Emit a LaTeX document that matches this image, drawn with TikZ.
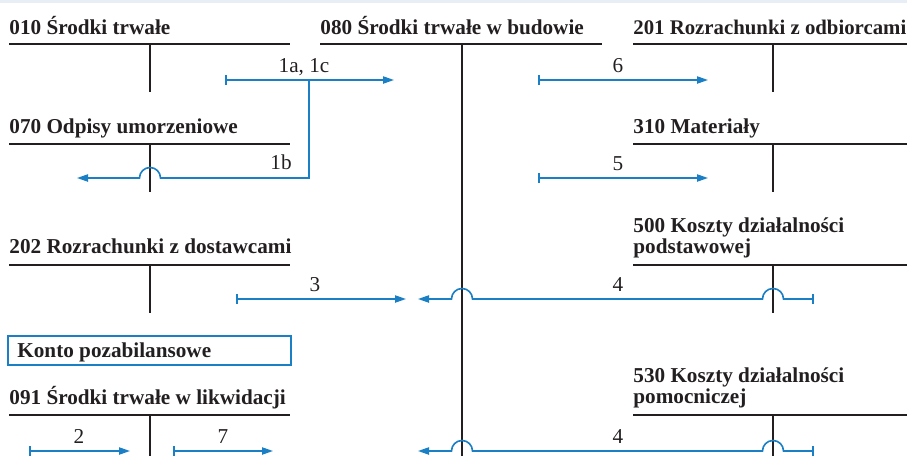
\documentclass[tikz,border=0pt]{standalone}
\usepackage{fontspec}
\setmainfont{Liberation Serif}
\usetikzlibrary{arrows.meta}
\definecolor{acblue}{RGB}{27,127,197}
\definecolor{ink}{RGB}{35,31,32}
\definecolor{band}{RGB}{232,238,246}
\begin{document}
\begin{tikzpicture}[x=0.5pt,y=-0.5pt,
 title/.style={font=\fontsize{10.6}{10.5}\selectfont\bfseries, text=ink, inner sep=0pt, anchor=base west, align=left},
 lbl/.style={font=\fontsize{10.6}{12}\selectfont, text=ink, inner sep=0pt, anchor=base},
 acc/.style={draw=ink, line width=0.7pt},
 flow/.style={draw=acblue, line width=0.8pt, -{Triangle[length=5.5pt,width=3.6pt]}},
 flowbar/.style={draw=acblue, line width=0.8pt, {Bar[width=5pt]}-{Triangle[length=5.5pt,width=3.6pt]}},
 kbox/.style={draw=acblue, line width=0.8pt, inner sep=0pt, minimum width=141.5pt, minimum height=14.5pt}
]
\useasboundingbox (0,0) rectangle (907,456);
\fill[band] (0,0) rectangle (907,2.5);

% titles
\node[title] (t010) at (9,34) {010 Środki trwałe};
\node[title] (t080) at (320,34) {080 Środki trwałe w budowie};
\node[title, font=\fontsize{10.4}{10.5}\selectfont\bfseries] (t201) at (633,34) {201 Rozrachunki z odbiorcami};
\node[title] (t070) at (9,133) {070 Odpisy umorzeniowe};
\node[title] (t310) at (633,133) {310 Materiały};
\node[title] (t202) at (9,253) {202 Rozrachunki z dostawcami};
\node[title] (t500) at (633,253) {500 Koszty działalności\\podstawowej};
\node[kbox] (konto) at (149.5,350.5) {};
\node[title] (kontot) at (17,357) {Konto pozabilansowe};
\node[title] (t091) at (9,404) {091 Środki trwałe w likwidacji};
\node[title] (t530) at (633,403) {530 Koszty działalności\\pomocniczej};

% T-accounts
\draw[acc] (9,44) -- (290,44) (150,44) -- (150,92);
\draw[acc] (320,44) -- (602,44) (462,44) -- (462,456);
\draw[acc] (633,44) -- (907,44) (773,44) -- (773,92);
\draw[acc] (9,144) -- (290,144) (150,144) -- (150,192);
\draw[acc] (633,144) -- (907,144) (773,144) -- (773,192);
\draw[acc] (9,265) -- (290,265) (150,265) -- (150,313);
\draw[acc] (633,265) -- (907,265) (773,265) -- (773,313);
\draw[acc] (9,415) -- (290,415) (150,415) -- (150,456);
\draw[acc] (633,415) -- (907,415) (773,415) -- (773,456);

% flows
\coordinate (s1) at (225,80); \coordinate (e1) at (394,80);
\coordinate (b1) at (309,80); \coordinate (e1b) at (77,178);
\draw[flowbar] (s1) -- (e1);
\draw[flow] (b1) -- (309,178) -- (160.5,178) arc[start angle=0,end angle=180,radius=5.25pt] -- (e1b);
\node[lbl] (l1a) at (304,72) {1a, 1c};
\node[lbl] (l1b) at (281,169) {1b};

\coordinate (s6) at (538,80); \coordinate (e6) at (708,80);
\draw[flowbar] (s6) -- (e6);
\node[lbl] (l6) at (618,72) {6};

\coordinate (s5) at (538,178); \coordinate (e5) at (708,178);
\draw[flowbar] (s5) -- (e5);
\node[lbl] (l5) at (618,170) {5};

\coordinate (s3) at (236,299); \coordinate (e3) at (406,299);
\draw[flowbar] (s3) -- (e3);
\node[lbl] (l3) at (315,291) {3};

\coordinate (s4a) at (814,299); \coordinate (e4a) at (418,299);
\draw[flowbar] (s4a) -- (783.5,299) arc[start angle=0,end angle=180,radius=5.25pt] -- (472.5,299) arc[start angle=0,end angle=180,radius=5.25pt] -- (e4a);
\node[lbl] (l4a) at (618,291) {4};

\coordinate (s2) at (29,451); \coordinate (e2) at (130,451);
\draw[flowbar] (s2) -- (e2);
\node[lbl] (l2) at (79,443) {2};

\coordinate (s7) at (173,451); \coordinate (e7) at (273,451);
\draw[flowbar] (s7) -- (e7);
\node[lbl] (l7) at (223,443) {7};

\coordinate (s4b) at (814,451); \coordinate (e4b) at (418,451);
\draw[flowbar] (s4b) -- (783.5,451) arc[start angle=0,end angle=180,radius=5.25pt] -- (472.5,451) arc[start angle=0,end angle=180,radius=5.25pt] -- (e4b);
\node[lbl] (l4b) at (618,443) {4};
\end{tikzpicture}
\end{document}
